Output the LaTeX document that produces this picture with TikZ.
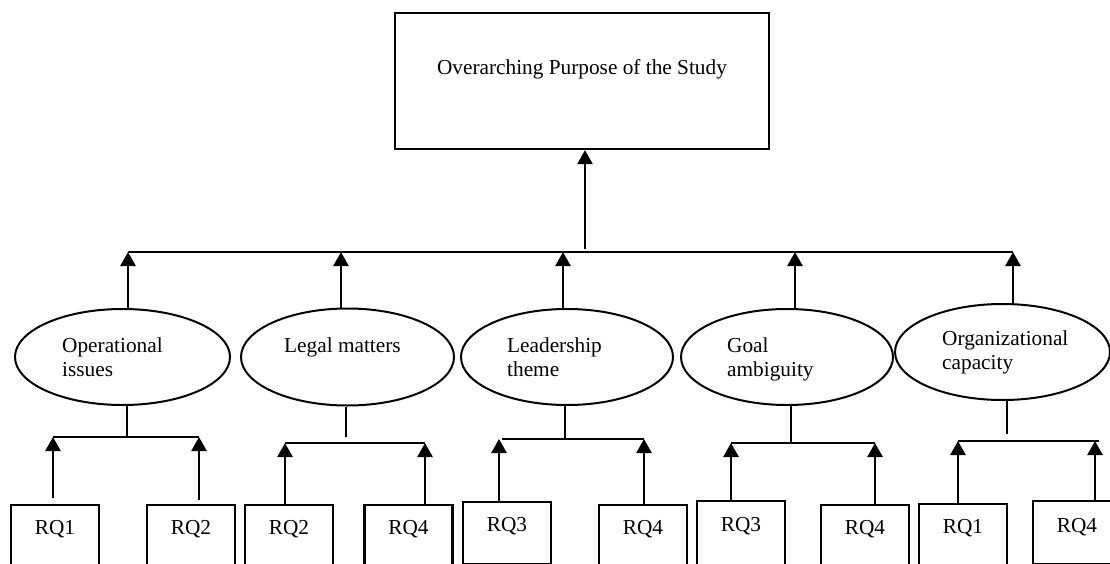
\documentclass[tikz,border=0pt]{standalone}
\usepackage{fontspec}
\setmainfont{Liberation Serif}
\usetikzlibrary{arrows.meta,shapes.geometric}
\begin{document}
\begin{tikzpicture}[x=1pt,y=-1pt,
  every node/.style={font=\fontsize{21.3}{24}\selectfont},
  ln/.style={line width=2.1pt},
  arr/.style={line width=2.7pt,-{Triangle[length=14pt,width=15pt]}},
  oval/.style={draw,ellipse,line width=2pt,inner sep=0pt},
  lbl/.style={anchor=base west,inner sep=0pt},
  rqbox/.style={draw,line width=2.2pt,inner sep=0pt,minimum width=88pt,anchor=north,text height=29pt,text depth=41pt},
  rqthin/.style={draw,line width=1.5pt,inner sep=0pt,minimum width=88pt,anchor=north}
]
\useasboundingbox (0,0) rectangle (1110,564);
\clip (0,0) rectangle (1110,564);

% top box
\node[draw,line width=2.2pt,inner sep=0pt,minimum width=374pt,text height=61pt,text depth=75pt,anchor=north] (top) at (582,12) {Overarching Purpose of the Study};
\coordinate (jtop) at (585,249);
\draw[arr] (jtop) -- (top.south -| jtop);

% main horizontal
\coordinate (a1) at (128,252);
\coordinate (a2) at (341,252);
\coordinate (a3) at (563,252);
\coordinate (a4) at (795,252);
\coordinate (a5) at (1013,252);
\draw[ln] (a1) -- (a5);

% ellipses
\node[oval,minimum width=215pt,minimum height=96pt] (e1) at (122.5,357) {};
\node[oval,minimum width=213pt,minimum height=97pt] (e2) at (347.5,357) {};
\node[oval,minimum width=212pt,minimum height=96pt] (e3) at (567,357) {};
\node[oval,minimum width=212pt,minimum height=96pt] (e4) at (787,357) {};
\node[oval,minimum width=215pt,minimum height=96pt] (e5) at (1002.5,352) {};

\node[lbl] (t1a) at (62,352) {Operational};
\node[lbl] (t1b) at (62,376) {issues};
\node[lbl] (t2a) at (284,352) {Legal matters};
\node[lbl] (t3a) at (507,352) {Leadership};
\node[lbl] (t3b) at (507,376) {theme};
\node[lbl] (t4a) at (727,352) {Goal};
\node[lbl] (t4b) at (727,376) {ambiguity};
\node[lbl] (t5a) at (942,345) {Organizational};
\node[lbl] (t5b) at (942,369) {capacity};

\foreach \i in {1,...,5} {\draw[arr] (e\i.north -| a\i) -- (a\i);}

% group 1: Operational issues
\coordinate (j1) at (127,437);
\coordinate (h1l) at (53,437);
\coordinate (h1r) at (199,437);
\coordinate (t1l) at (53,498);
\coordinate (t1r) at (199,500);
\node[rqbox] (b1a) at (55,504) {RQ1};
\node[rqbox] (b1b) at (191,504) {RQ2};
\draw[ln] (e1.south -| j1) -- (j1);
\draw[ln] (h1l) -- (h1r);
\draw[arr] (t1l) -- (h1l);
\draw[arr] (t1r) -- (h1r);

% group 2: Legal matters
\coordinate (j2) at (346,437);
\coordinate (h2l) at (285,443);
\coordinate (h2r) at (425,443);
\node[rqbox] (b2a) at (289,504) {RQ2};
\node[rqbox] (b2b) at (408.5,504) {RQ4};
\draw[ln] (e2.south -| j2) -- (j2);
\draw[ln] (h2l) -- (h2r);
\draw[arr] (b2a.north -| h2l) -- (h2l);
\draw[arr] (b2b.north -| h2r) -- (h2r);

% group 3: Leadership theme
\coordinate (j3) at (565,439);
\coordinate (h3l) at (499,439);
\coordinate (h3r) at (644,439);
\node[rqthin,text height=30pt,text depth=32pt] (b3a) at (507,501) {RQ3};
\node[rqbox] (b3b) at (643,504) {RQ4};
\draw[ln] (e3.south -| j3) -- (j3);
\draw[ln] ([xshift=3pt]h3l) -- (h3r);
\draw[arr] (b3a.north -| h3l) -- (h3l);
\draw[arr] (b3b.north -| h3r) -- (h3r);

% group 4: Goal ambiguity
\coordinate (j4) at (791,443);
\coordinate (h4l) at (731,443);
\coordinate (h4r) at (875,443);
\node[rqbox,text height=30pt,text depth=44pt] (b4a) at (741,500) {RQ3};
\node[rqbox] (b4b) at (865,504) {RQ4};
\draw[ln] (e4.south -| j4) -- (j4);
\draw[ln] (h4l) -- (h4r);
\draw[arr] (b4a.north -| h4l) -- (h4l);
\draw[arr] (b4b.north -| h4r) -- (h4r);

% group 5: Organizational capacity
\coordinate (j5) at (1007,434);
\coordinate (h5l) at (958,441);
\coordinate (h5r) at (1095,441);
\node[rqbox,text height=29pt,text depth=42pt] (b5a) at (963,503) {RQ1};
\node[rqthin,text height=32pt,text depth=31pt] (b5b) at (1077,500) {RQ4};
\draw[line width=1.7pt] (e5.south -| j5) -- (j5);
\draw[line width=1.7pt] (h5l) -- ([xshift=4pt]h5r);
\draw[arr] (b5a.north -| h5l) -- (h5l);
\draw[arr] (b5b.north -| h5r) -- (h5r);
\end{tikzpicture}
\end{document}
